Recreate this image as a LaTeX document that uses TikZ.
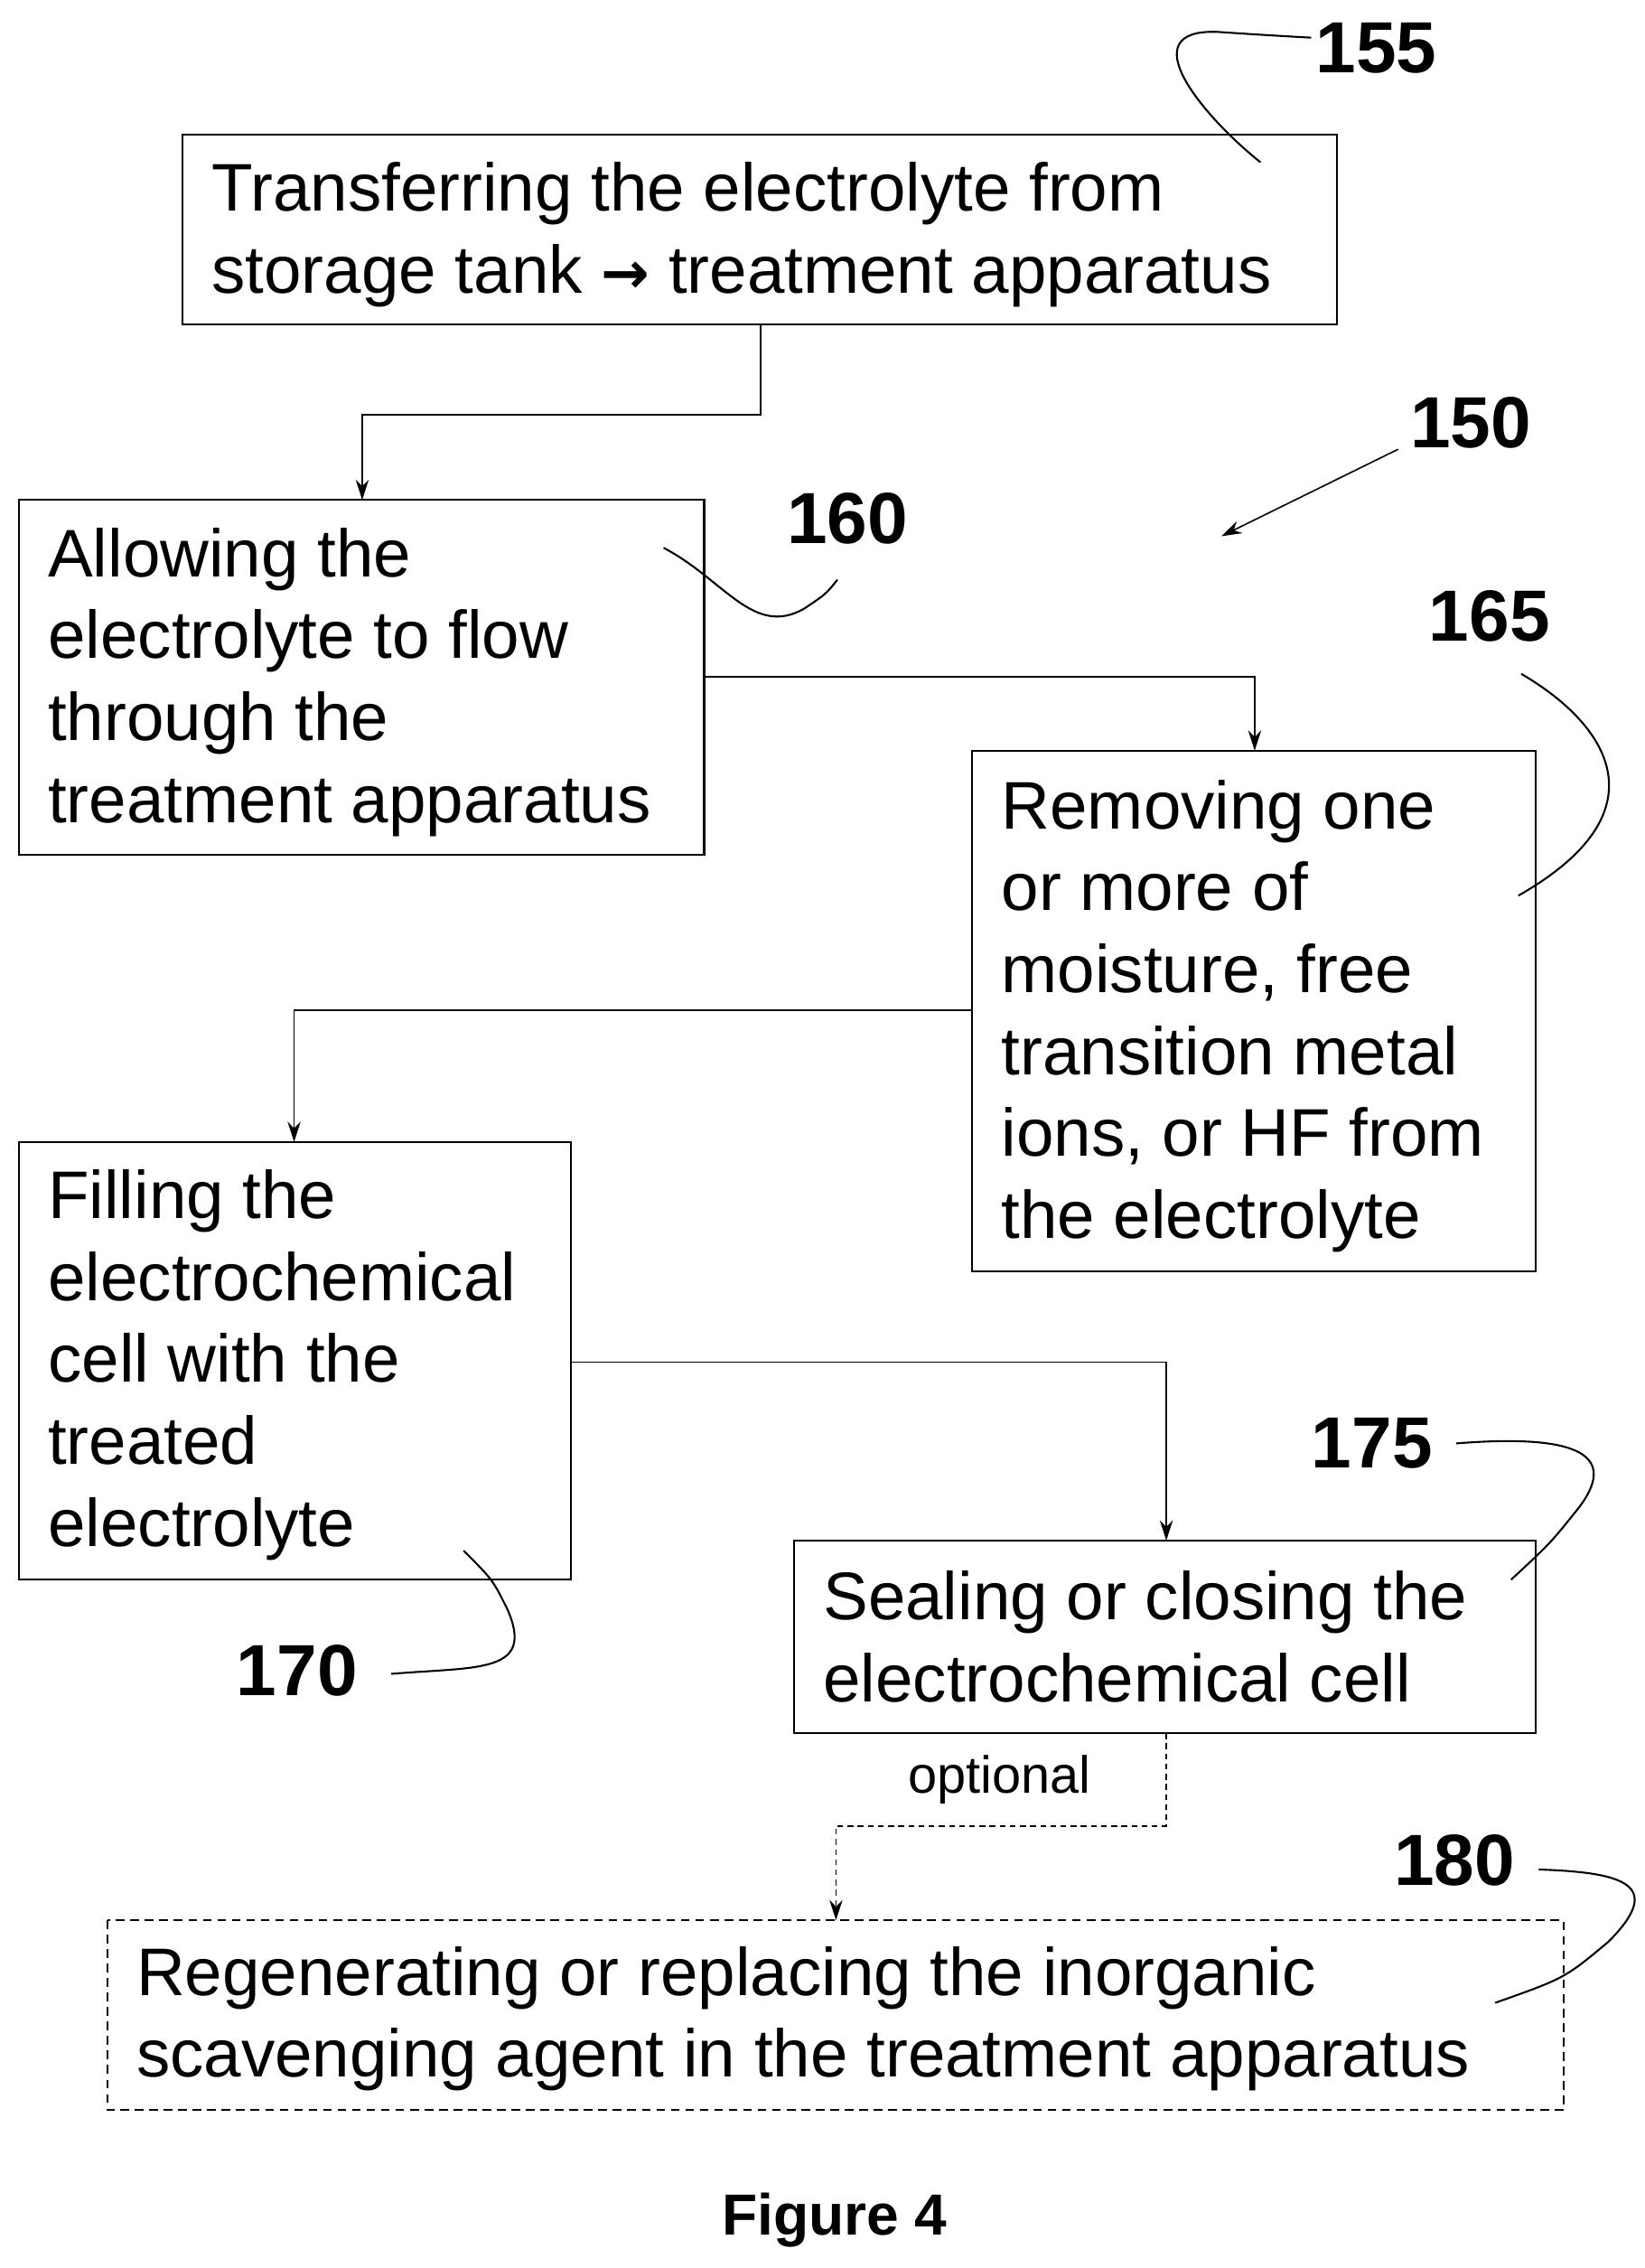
\documentclass[tikz,border=0pt]{standalone}
\usepackage{fontspec}
\setmainfont{Liberation Sans}
\newfontfamily\arrowfont{DejaVu Sans}
\usetikzlibrary{arrows.meta}
\begin{document}
\begin{tikzpicture}[x=1pt,y=-1pt,
 box/.style={draw,line width=1.3pt},
 txt/.style={anchor=north west,inner sep=0,align=left,font=\fontsize{46.5}{56.5}\selectfont},
 num/.style={font=\fontsize{50}{56}\selectfont\bfseries},
 con/.style={line width=1pt,-{Stealth[length=14pt,width=9pt]}},
 sq/.style={line width=1.3pt}]
\useasboundingbox (0,0) rectangle (1135,1565);
\draw[box] (126,93) rectangle (923,224);
\node[txt] (t155) at (146,112) {Transferring the electrolyte from\\storage tank {\arrowfont\bfseries\fontsize{40}{40}\selectfont →} treatment apparatus};
\draw[box] (13,345) rectangle (486,590);
\node[txt] (t160) at (33,364) {Allowing the\\electrolyte to flow\\through the\\treatment apparatus};
\draw[box] (671,518) rectangle (1060,877);
\node[txt] (t165) at (691,538) {Removing one\\or more of\\moisture, free\\transition metal\\ions, or HF from\\the electrolyte};
\draw[box] (13,788) rectangle (394,1090);
\node[txt] (t170) at (33,807) {Filling the\\electrochemical\\cell with the\\treated\\electrolyte};
\draw[box] (548,1063) rectangle (1060,1196);
\node[txt] (t175) at (568,1084) {Sealing or closing the\\electrochemical cell};
\draw[box,dashed,dash pattern=on 6pt off 4pt] (74,1325) rectangle (1079,1456);
\node[txt] (t180) at (94,1343) {Regenerating or replacing the inorganic\\scavenging agent in the treatment apparatus};
\node[font=\fontsize{40}{48}\selectfont\bfseries] (fig) at (576,1532) {Figure 4};
\node[font=\fontsize{36}{40}\selectfont] (opt) at (690,1228) {optional};
% connectors
\coordinate (a1) at (525,224); \coordinate (a2) at (250,345);
\draw[con] (a1) -- (525,286) -- (250,286) -- (a2);
\coordinate (b1) at (486,467); \coordinate (b2) at (866,518);
\draw[con] (b1) -- (866,467) -- (b2);
\coordinate (c1) at (671,697); \coordinate (c2) at (203,788);
\draw[con] (c1) -- (203,697) -- (c2);
\coordinate (d1) at (394,940); \coordinate (d2) at (805,1063);
\draw[con] (d1) -- (805,940) -- (d2);
\coordinate (e1) at (805,1196); \coordinate (e2) at (577,1325);
\draw[con,dashed,dash pattern=on 4pt off 3pt] (e1) -- (805,1260) -- (577,1260) -- (e2);
% labels
\node[num] (n155) at (950,33) {155};
\draw[sq] (870,112) .. controls (830,80) and (780,20) .. (840,22) .. controls (870,24) .. (905,26);
\node[num] (n150) at (1015,292) {150};
\draw[line width=1pt,-{Stealth[length=14pt,width=9pt]}] (965,310) -- (843,370);
\node[num] (n160) at (585,358) {160};
\draw[sq] (458,378) .. controls (500,400) and (520,440) .. (555,420) .. controls (570,410) .. (578,400);
\node[num] (n165) at (1028,425) {165};
\draw[sq] (1050,465) .. controls (1110,500) and (1150,560) .. (1048,618);
\node[num] (n175) at (947,996) {175};
\draw[sq] (1005,996) .. controls (1080,990) and (1120,1000) .. (1090,1040) .. controls (1070,1065) .. (1043,1090);
\node[num] (n170) at (205,1153) {170};
\draw[sq] (270,1155) .. controls (330,1150) and (370,1155) .. (350,1110) .. controls (340,1090) .. (320,1070);
\node[num] (n180) at (1004,1284) {180};
\draw[sq] (1062,1290) .. controls (1120,1292) and (1150,1300) .. (1110,1340) .. controls (1080,1365) .. (1032,1382);
\end{tikzpicture}
\end{document}
